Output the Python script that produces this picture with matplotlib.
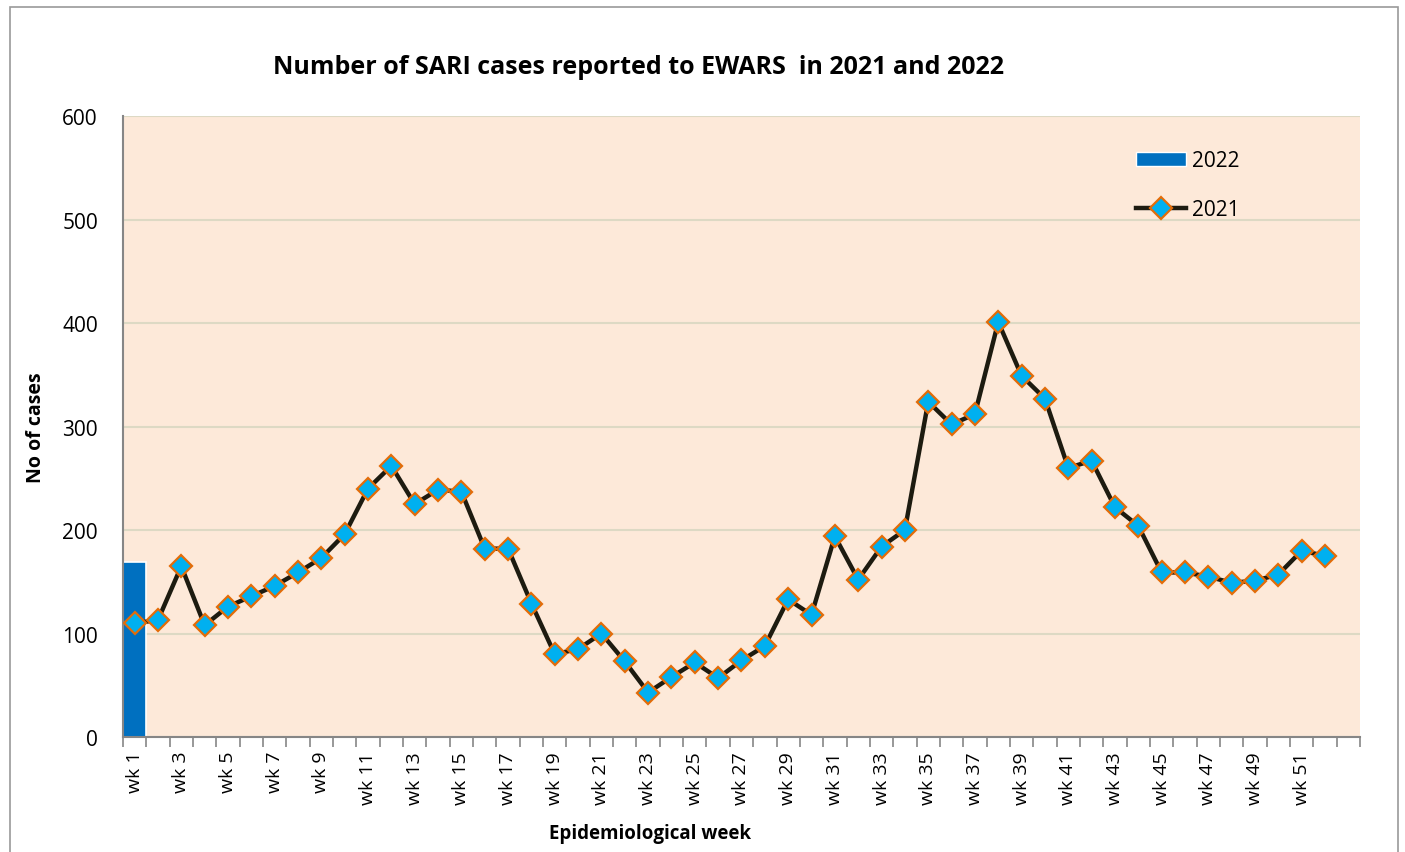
import matplotlib
matplotlib.use("Agg")
import matplotlib.pyplot as plt
from matplotlib.patches import Rectangle
from matplotlib.lines import Line2D
from matplotlib.patches import Patch
import numpy as np

# data
weeks = ["wk %d" % i for i in range(1, 54)]
cases_2022 = [169]
cases_2021 = [110, 113, 165, 108, 126, 136, 146, 159, 173, 196,
              240, 262, 225, 239, 237, 182, 182, 129, 80, 85,
              100, 73, 43, 58, 72, 57, 74, 88, 133, 118,
              194, 152, 184, 200, 324, 302, 312, 401, 349, 327,
              260, 267, 222, 204, 159, 159, 155, 149, 151, 157,
              180, 175]

plt.rcParams['font.family'] = ['Open Sans', 'DejaVu Sans']

fig = plt.figure(figsize=(14.05, 8.53), dpi=100)
ax = fig.add_axes([0.0875, 0.1348, 0.968 - 0.0875, 0.8628 - 0.1348])

# outer chart border
fig.patches.append(Rectangle((10 / 1405, -0.05), 1388 / 1405, 1.05 - 8 / 853,
                             transform=fig.transFigure, fill=False,
                             edgecolor='#9a9a9a', linewidth=1.2))

ax.set_facecolor('#FDE9D9')
x = np.arange(len(weeks))

ax.bar(x[:len(cases_2022)], cases_2022, width=1.0, color='#0070C0',
       edgecolor='white', linewidth=1.2, zorder=2)
ax.plot(x[:len(cases_2021)], cases_2021, color='#1D1B10', linewidth=3.2,
        marker='D', markersize=11, markerfacecolor='#00B0F0',
        markeredgecolor='#E36C09', markeredgewidth=1.6, zorder=3)

ax.set_xlim(-0.5, len(weeks) - 0.5)
ax.set_ylim(0, 600)
ax.set_yticks(range(0, 601, 100))
ax.yaxis.grid(True, color='#DDD9C4', linewidth=1.5, zorder=0)
ax.set_axisbelow(True)
ax.tick_params(axis='y', length=0, labelsize=15, pad=18)

# boundary ticks (major), labels on minor ticks at category centres
ax.set_xticks(np.arange(-0.5, len(weeks) + 0.5, 1.0))
ax.set_xticklabels([])
ax.tick_params(axis='x', which='major', length=7, color='#868686', width=1.2)
label_pos = x[:52:2]
ax.set_xticks(label_pos, minor=True)
ax.set_xticklabels([weeks[i] for i in label_pos], minor=True, rotation=90, fontsize=14)
ax.tick_params(axis='x', which='minor', length=0, pad=10)

for s in ['top', 'right']:
    ax.spines[s].set_visible(False)
for s in ['left', 'bottom']:
    ax.spines[s].set_color('#868686')
    ax.spines[s].set_linewidth(1.5)

ax.set_title('Number of SARI cases reported to EWARS  in 2021 and 2022',
             fontsize=18, fontweight='bold', pad=31, x=0.417)
ax.set_ylabel('No of cases', fontsize=14, fontweight='bold', labelpad=12)
ax.set_xlabel('Epidemiological week', fontsize=13.5, fontweight='bold')
ax.xaxis.set_label_coords(0.426, -0.139)

handles = [Patch(facecolor='#0070C0', edgecolor='white'),
           Line2D([], [], color='#1D1B10', linewidth=3.2, marker='D', markersize=11,
                  markerfacecolor='#00B0F0', markeredgecolor='#E36C09',
                  markeredgewidth=1.6)]
ax.legend(handles, ['2022', '2021'], loc='upper right', bbox_to_anchor=(0.918, 0.975),
          frameon=False, fontsize=15, labelspacing=1.35, handlelength=2.4,
          handletextpad=0.3)

fig.savefig('out.png', dpi=100, facecolor='white')
